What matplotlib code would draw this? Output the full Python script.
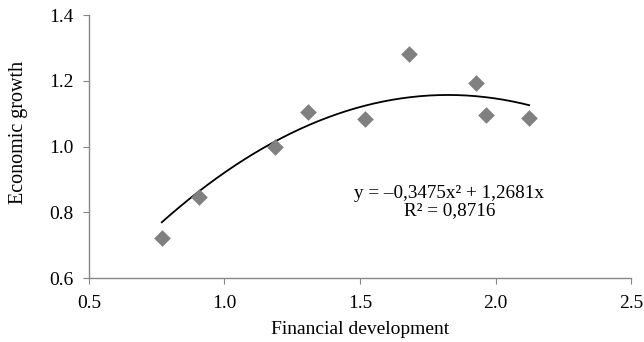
import numpy as np
import matplotlib
matplotlib.use("Agg")
import matplotlib.pyplot as plt

plt.rcParams['font.family'] = ['Liberation Serif', 'DejaVu Serif']

# Financial development vs economic growth
fin_dev = [0.769, 0.906, 1.186, 1.308, 1.518, 1.681, 1.928, 1.965, 2.124]
econ_growth = [0.722, 0.846, 0.998, 1.105, 1.084, 1.281, 1.193, 1.096, 1.087]

# Polynomial trend coefficients (order 2, zero intercept)
coef_a = -0.3475
coef_b = 1.2681
r_squared = 0.8716

x_ticks = [0.5, 1.0, 1.5, 2.0, 2.5]
y_ticks = [0.6, 0.8, 1.0, 1.2, 1.4]

fig = plt.figure(figsize=(6.44, 3.42), dpi=100)
ax = fig.add_axes([0.138, 0.187, 0.842, 0.769])

ax.scatter(fin_dev, econ_growth, marker='D', s=72, color='#808080', zorder=3, linewidths=0)

xs = np.linspace(min(fin_dev), max(fin_dev), 200)
ax.plot(xs, coef_a * xs**2 + coef_b * xs, color='black', lw=1.3, zorder=2)

ax.set_xlim(0.5, 2.5)
ax.set_ylim(0.6, 1.4)
ax.set_xticks(x_ticks)
ax.set_yticks(y_ticks)
ax.set_xticklabels([f"{t:.1f}" for t in x_ticks])
ax.set_yticklabels([f"{t:.1f}" for t in y_ticks])

for side in ['top', 'right']:
    ax.spines[side].set_visible(False)
for side in ['left', 'bottom']:
    ax.spines[side].set_color('#868686')
    ax.spines[side].set_linewidth(1.0)
ax.tick_params(direction='out', length=4, color='#868686', labelsize=14)
ax.tick_params(axis='y', pad=7)
ax.tick_params(axis='x', pad=8)

ax.set_xlabel('Financial development', fontsize=14, labelpad=7)
ax.set_ylabel('Economic growth', fontsize=14.5)
ax.yaxis.set_label_coords(-0.112, 0.555)

eq = f"y = \u2013{abs(coef_a):.4f}x\u00b2 + {coef_b:.4f}x".replace('.', ',')
r2 = f"R\u00b2 = {r_squared:.4f}".replace('.', ',')
ax.text(1.83, 0.831, eq + "\n" + r2, ha='center', va='center', fontsize=13.8,
        linespacing=1.05)

fig.savefig('out.png', dpi=100)
